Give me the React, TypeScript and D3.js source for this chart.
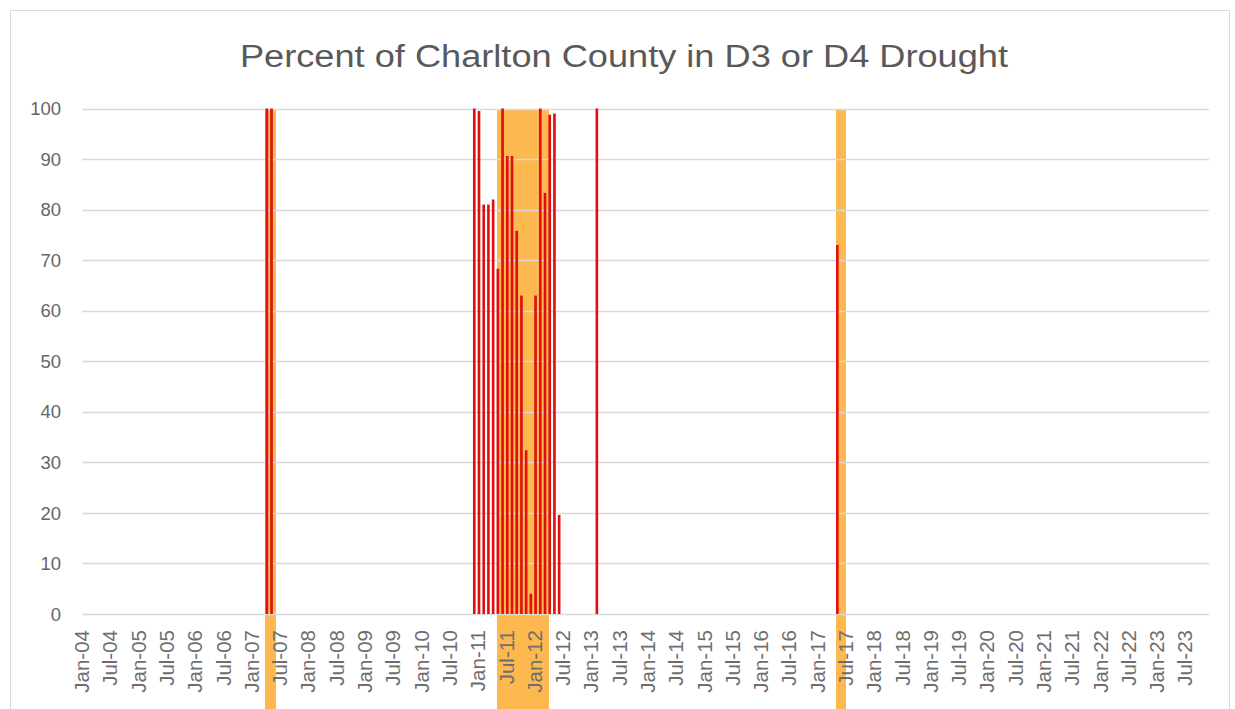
import React, { useEffect, useRef } from "react";
import * as d3 from "d3";

// monthly categories, Jan-04 .. Nov-23
const firstMonth = new Date(2004, 0, 1);
const endMonth = new Date(2023, 11, 1);

// months where part of the county was in D3/D4 drought, and the percent
const droughtMonths = [
  "2007-04", "2007-05",
  "2010-12", "2011-01", "2011-02", "2011-03", "2011-04", "2011-05", "2011-06",
  "2011-07", "2011-08", "2011-09", "2011-10", "2011-11", "2011-12", "2012-01",
  "2012-02", "2012-03", "2012-04", "2012-05", "2012-06",
  "2013-02",
  "2017-05",
];
const droughtPct = [
  100, 100,
  100, 99.5, 81, 81, 82, 68.3, 100,
  90.6, 90.6, 75.8, 63, 32.4, 4, 63,
  100, 83.3, 98.8, 99, 19.6,
  100,
  73,
];

// months shaded in orange
const shadedMonths = [
  "2007-04", "2007-05",
  "2011-05", "2011-06", "2011-07", "2011-08", "2011-09", "2011-10",
  "2011-11", "2011-12", "2012-01", "2012-02", "2012-03",
  "2017-05", "2017-06",
];

const yTicks = [0, 10, 20, 30, 40, 50, 60, 70, 80, 90, 100];

const W = 1235;
const H = 709;
const keyFmt = d3.timeFormat("%Y-%m");
const labelFmt = d3.timeFormat("%b-%y");

const DroughtChart = () => {
  const svgEl = useRef<SVGSVGElement | null>(null);

  useEffect(() => {
    if (!svgEl.current) return;
    drawChart(svgEl.current);
  }, []);

  return (
    <svg
      ref={svgEl}
      width={W}
      height={H}
      style={{ position: "absolute", left: 0, top: 0, background: "#fff" }}
    ></svg>
  );
};

function drawChart(el: SVGSVGElement) {
  const svg = d3.select(el);
  svg.selectAll("*").remove();

  const months = d3.timeMonth.range(firstMonth, endMonth);
  const keys = months.map(keyFmt);

  const x = d3.scaleBand<string>().domain(keys).range([81.6, 1208.5]).padding(0);
  const y = d3.scaleLinear().domain([0, 100]).range([614, 108.5]);
  const bw = x.bandwidth();

  // chart frame
  svg
    .append("rect")
    .attr("x", 10.5)
    .attr("y", 10.5)
    .attr("width", 1219)
    .attr("height", 740)
    .attr("fill", "#fff")
    .attr("stroke", "#d9d9d9")
    .attr("stroke-width", 1);

  // orange shading, runs down through the label area
  svg
    .append("g")
    .attr("shape-rendering", "crispEdges")
    .selectAll("rect")
    .data(shadedMonths)
    .join("rect")
    .attr("x", (d) => x(d)!)
    .attr("y", y(100))
    .attr("width", bw + 0.8)
    .attr("height", H - y(100))
    .attr("fill", "#fdb94f");

  // gridlines
  svg
    .append("g")
    .selectAll("line")
    .data(yTicks)
    .join("line")
    .attr("x1", 82)
    .attr("x2", 1209)
    .attr("y1", (d) => Math.round(y(d)) + 0.5)
    .attr("y2", (d) => Math.round(y(d)) + 0.5)
    .attr("stroke", "#d9d9d9")
    .attr("stroke-width", 1.3);

  // y labels
  svg
    .append("g")
    .selectAll("text")
    .data(yTicks)
    .join("text")
    .attr("x", 61)
    .attr("y", (d) => y(d))
    .attr("dy", "0.36em")
    .attr("text-anchor", "end")
    .attr("font-family", "Liberation Sans, Arial, sans-serif")
    .attr("font-size", 18.5)
    .attr("fill", "#666")
    .text((d) => d);

  // red bars
  svg
    .append("g")
    .selectAll("rect")
    .data(droughtMonths.map((m, i) => ({ m, v: droughtPct[i] })))
    .join("rect")
    .attr("x", (d) => x(d.m)!)
    .attr("y", (d) => y(d.v))
    .attr("width", bw / 2 + 0.3)
    .attr("height", (d) => y(0) - y(d.v))
    .attr("fill", "#e01010");

  // x labels, every 6 months
  const labelMonths = months.filter((m) => m.getMonth() % 6 === 0);
  svg
    .append("g")
    .selectAll("text")
    .data(labelMonths)
    .join("text")
    .attr("transform", (d) => {
      const cx = x(keyFmt(d))! + bw / 2 + 5.2;
      return "translate(" + cx + ",630) rotate(-90)";
    })
    .attr("text-anchor", "end")
    .attr("font-family", "Liberation Sans, Arial, sans-serif")
    .attr("font-size", 20.5)
    .attr("fill", "#6e6e6e")
    .text((d) => labelFmt(d));

  // title
  svg
    .append("text")
    .attr("x", 624)
    .attr("y", 67)
    .attr("text-anchor", "middle")
    .attr("font-family", "Liberation Sans, Arial, sans-serif")
    .attr("font-size", 31)
    .attr("fill", "#595959")
    .attr("textLength", 768)
    .attr("lengthAdjust", "spacingAndGlyphs")
    .text("Percent of Charlton County in D3 or D4 Drought");
}

export default function App() {
  return <DroughtChart />;
}
